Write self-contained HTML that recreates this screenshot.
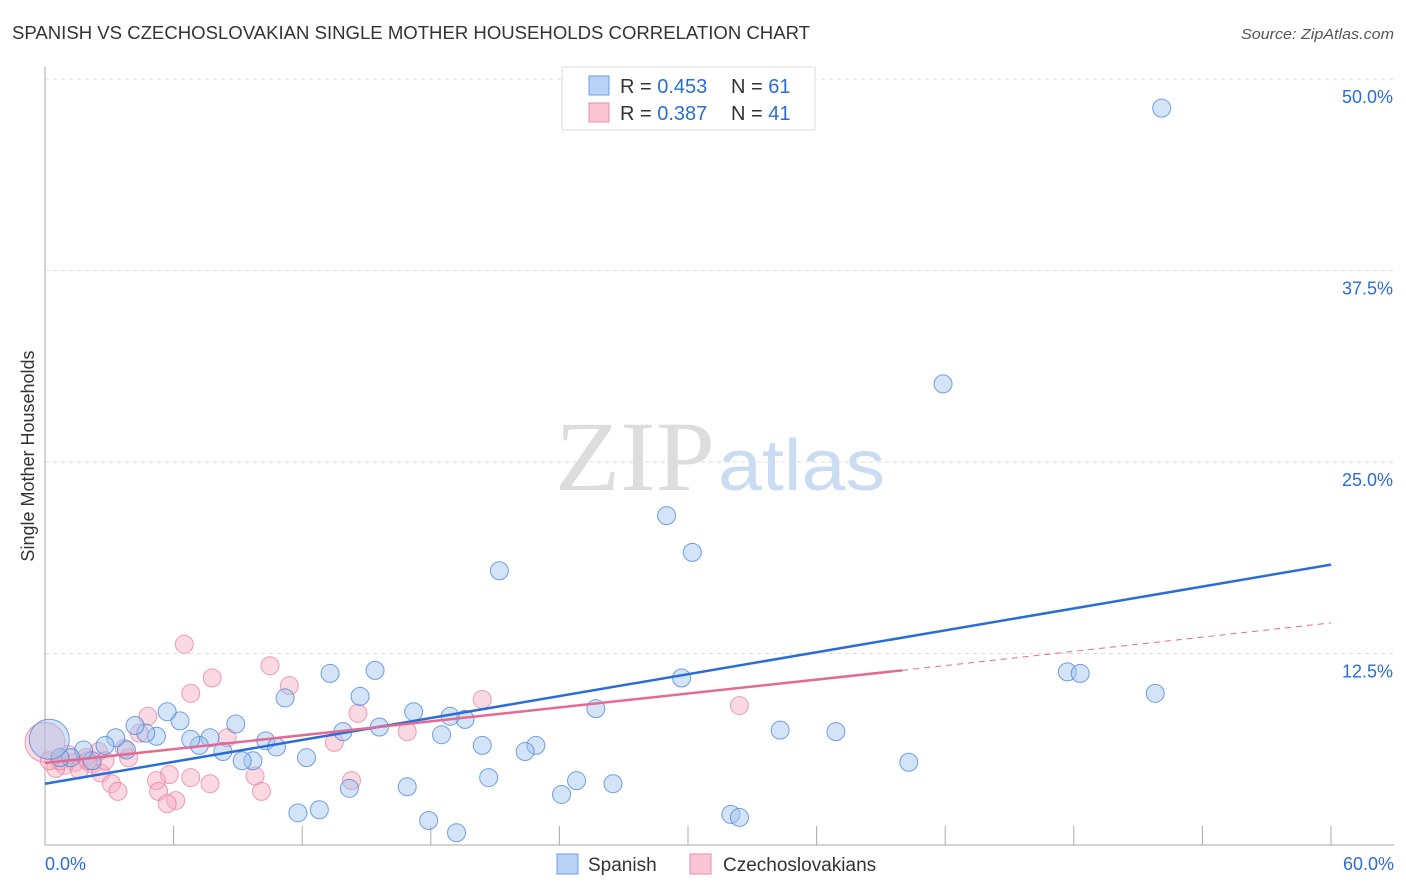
<!DOCTYPE html>
<html><head><meta charset="utf-8"><style>
body{margin:0;background:#fff;font-family:"Liberation Sans",sans-serif;}
svg{display:block}
</style></head><body>
<svg id="chart" width="1406" height="892" font-family="Liberation Sans, sans-serif">
<text x="12" y="39" font-size="18" fill="#333" textLength="798" lengthAdjust="spacingAndGlyphs">SPANISH VS CZECHOSLOVAKIAN SINGLE MOTHER HOUSEHOLDS CORRELATION CHART</text>
<text x="1394" y="39" font-size="15" fill="#555" text-anchor="end" font-style="italic" textLength="153" lengthAdjust="spacingAndGlyphs">Source: ZipAtlas.com</text>
<text x="34" y="456" font-size="18" fill="#333" text-anchor="middle" transform="rotate(-90 34 456)">Single Mother Households</text>
<g id="grid"></g>
<text x="555" y="490" font-size="100" fill="#ddd" textLength="160" lengthAdjust="spacingAndGlyphs" font-family="Liberation Serif, serif">ZIP</text>
<text x="718" y="490" font-size="72" fill="#c9dcf3" textLength="167" lengthAdjust="spacingAndGlyphs">atlas</text>
<g id="marks"></g>
<g>
<rect x="562" y="67" width="253" height="63" fill="#fff" stroke="#ddd"/>
<rect x="589" y="76" width="20" height="19" fill="#b8d3f5" stroke="#6a9fe0"/>
<rect x="589" y="103" width="20" height="19" fill="#f9c5d5" stroke="#ec8aa8"/>
<text x="620" y="93" font-size="20" fill="#333">R = <tspan fill="#2a6dd6">0.453</tspan></text>
<text x="731" y="93" font-size="20" fill="#333">N = <tspan fill="#2a6dd6">61</tspan></text>
<text x="620" y="120" font-size="20" fill="#333">R = <tspan fill="#2a6dd6">0.387</tspan></text>
<text x="731" y="120" font-size="20" fill="#333">N = <tspan fill="#2a6dd6">41</tspan></text>
</g>
<g>
<rect x="557" y="854" width="21" height="20" fill="#b8d3f5" stroke="#6a9fe0"/>
<text x="588" y="871" font-size="19" fill="#333">Spanish</text>
<rect x="690" y="854" width="21" height="20" fill="#f9c5d5" stroke="#ec8aa8"/>
<text x="723" y="871" font-size="19" fill="#333">Czechoslovakians</text>
</g>
</svg>
<script>
const yTicks=[12.5,25.0,37.5,50.0];
const yTickLabels=["12.5%","25.0%","37.5%","50.0%"];
const xTickLabels=["0.0%","60.0%"];
const spanishX=[52.1,41.9,29.0,30.2,21.2,29.7,47.7,48.3,51.8,34.3,36.9,40.3,32.0,32.4,25.7,22.9,22.4,20.4,20.7,24.8,26.5,24.1,19.6,18.9,18.5,17.2,15.6,15.4,14.7,13.3,13.9,14.2,16.9,17.9,19.2,11.8,12.8,11.2,12.2,10.3,10.8,8.9,9.7,9.2,8.3,7.7,7.2,6.8,6.3,5.7,5.2,4.7,4.2,3.8,3.3,2.8,2.2,1.8,1.2,0.7,0.2];
const spanishY=[48.1,30.1,21.5,19.1,17.9,10.9,11.3,11.2,9.9,7.5,7.4,5.4,2.0,1.8,8.9,6.5,6.1,6.5,4.4,4.2,4.0,3.3,8.2,8.4,7.2,8.7,7.7,11.4,9.7,11.2,7.4,3.7,3.8,1.6,0.8,2.1,2.3,9.6,5.7,6.8,6.4,7.9,5.5,5.5,6.1,7.0,6.5,6.9,8.1,8.7,7.1,7.3,7.8,6.2,7.0,6.5,5.5,6.2,5.7,5.7,6.9];
const czechX=[6.5,10.5,7.8,11.4,6.8,20.4,32.4,14.6,4.8,16.9,8.5,13.5,4.4,2.5,3.9,3.7,1.9,1.4,0.9,0.5,2.2,1.6,2.6,5.8,9.8,6.8,5.2,14.3,3.1,7.7,3.4,5.3,10.1,6.1,5.7,0.0,0.7,1.1,2.0,0.2,2.8];
const czechY=[13.1,11.7,10.9,10.4,9.9,9.5,9.1,8.6,8.4,7.4,7.0,6.7,7.3,6.1,5.7,6.3,5.7,5.4,5.2,5.0,5.3,4.9,4.7,4.6,4.5,4.4,4.2,4.2,4.0,4.0,3.5,3.5,3.5,2.9,2.7,6.7,5.5,5.9,5.5,5.5,5.5];
const spanishTrend=[[0,4.0],[60,18.3]];
const czechTrend=[[0,5.35],[40,11.4]];
const czechTrendExt=[[40,11.4],[60,14.5]];

const X=v=>45+v*(1331-45)/60;
const Y=v=>845-v*(845-79)/50;
const NS="http://www.w3.org/2000/svg";
function mk(tag,attrs,parent){const e=document.createElementNS(NS,tag);for(const k in attrs)e.setAttribute(k,attrs[k]);parent.appendChild(e);return e;}
const grid=document.getElementById('grid');
yTicks.forEach((t,i)=>{
  const g=mk('line',{x1:45,x2:1394,y1:Y(t),y2:Y(t),stroke:'#ddd','stroke-dasharray':'4,4'},grid);
  
  
  const l=mk('text',{x:1393,y:Y(t)+24,'font-size':18,fill:'#2a6dd6','text-anchor':'end'},grid);
  l.textContent=yTickLabels[i];
  
  
});
const ax=mk('path',{d:`M45 67 V845 H1394`,stroke:'#aaa',fill:'none'},grid);


for(let i=1;i<=10;i++){
  const t=mk('line',{x1:X(i*6),x2:X(i*6),y1:826,y2:845,stroke:'#aaa'},grid);
  
  
}
[[0,'start',45],[1,'end',1394]].forEach(([i,a,x])=>{
  const l=mk('text',{x:x,y:870,'font-size':18,fill:'#2a6dd6','text-anchor':a},grid);
  l.textContent=xTickLabels[i];
  
  
});
const marks=document.getElementById('marks');
czechX.forEach((x,i)=>{
  const r=(i===35)?20:9;
  const c=mk('circle',{cx:X(x),cy:Y(czechY[i]),r:r,fill:'rgba(246,170,194,0.45)',stroke:'rgba(230,120,155,0.7)','stroke-width':1},marks);
  
  
});
spanishX.forEach((x,i)=>{
  const r=(i===60)?20:9;
  const c=mk('circle',{cx:X(x),cy:Y(spanishY[i]),r:r,fill:'rgba(160,196,240,0.45)',stroke:'rgba(70,130,215,0.75)','stroke-width':1},marks);
  
  
});
const l1=mk('line',{x1:X(spanishTrend[0][0]),y1:Y(spanishTrend[0][1]),x2:X(spanishTrend[1][0]),y2:Y(spanishTrend[1][1]),stroke:'#2a6dd6','stroke-width':2.5},marks);


const l2=mk('line',{x1:X(czechTrend[0][0]),y1:Y(czechTrend[0][1]),x2:X(czechTrend[1][0]),y2:Y(czechTrend[1][1]),stroke:'#e46a94','stroke-width':2.5},marks);


const l3=mk('line',{x1:X(czechTrendExt[0][0]),y1:Y(czechTrendExt[0][1]),x2:X(czechTrendExt[1][0]),y2:Y(czechTrendExt[1][1]),stroke:'#e46a94','stroke-width':1,'stroke-dasharray':'6,5'},marks);


</script>
</body></html>
